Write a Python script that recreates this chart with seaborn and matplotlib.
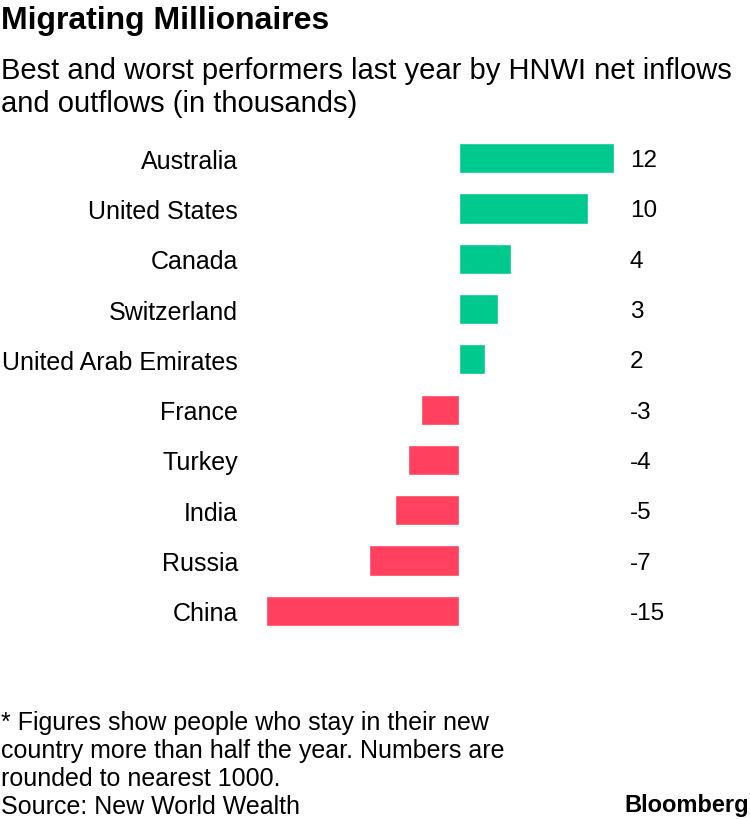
import matplotlib
matplotlib.use("Agg")
import matplotlib.pyplot as plt
import matplotlib.transforms as mtransforms
import seaborn as sns
import pandas as pd

countries = ["Australia", "United States", "Canada", "Switzerland", "United Arab Emirates",
             "France", "Turkey", "India", "Russia", "China"]
net_flows = [12, 10, 4, 3, 2, -3, -4, -5, -7, -15]
value_labels = ["12", "10", "4", "3", "2", "-3", "-4", "-5", "-7", "-15"]
footnote = ["* Figures show people who stay in their new",
            "country more than half the year. Numbers are",
            "rounded to nearest 1000.",
            "Source: New World Wealth"]

GREEN = "#00c98d"
RED = "#ff405f"

df = pd.DataFrame({"country": countries, "flow": net_flows})
df["sign"] = ["in" if v > 0 else "out" for v in net_flows]

sns.set_style("white")
plt.rcParams["font.family"] = ["Liberation Sans", "DejaVu Sans"]
plt.rcParams["text.color"] = "black"

fig = plt.figure(figsize=(7.5, 8.2), dpi=100)
ax = fig.add_axes([266 / 750, 1 - 637 / 820, 348 / 750, 503 / 820])

sns.barplot(data=df, x="flow", y="country", hue="sign", order=countries,
            palette={"in": GREEN, "out": RED}, width=0.6, dodge=False,
            legend=False, ax=ax, saturation=1)

ax.set_xlim(-15, 12)
ax.set_ylim(9.5, -0.5)
ax.set_xlabel("")
ax.set_ylabel("")
ax.set_xticks([])
for s in ax.spines.values():
    s.set_visible(False)
ax.tick_params(axis="y", length=0, pad=20, labelsize=18, labelcolor="black")

# value labels sit in a column right of the bars
trans = mtransforms.blended_transform_factory(fig.transFigure, ax.transData)
for i, lab in enumerate(value_labels):
    ax.text(630 / 750, i + 0.04, lab, transform=trans, ha="left", va="center",
            fontsize=17.5, color="black")

fig.text(1 / 750, 1 - 21 / 820, "Migrating Millionaires", fontsize=23,
         fontweight="bold", ha="left", va="center")
fig.text(1 / 750, 1 - 71 / 820,
         "Best and worst performers last year by HNWI net inflows",
         fontsize=21, ha="left", va="center")
fig.text(1 / 750, 1 - 104 / 820, "and outflows (in thousands)",
         fontsize=21, ha="left", va="center")
for k, line in enumerate(footnote):
    fig.text(1 / 750, 1 - (723 + 28 * k) / 820, line, fontsize=18,
             ha="left", va="center")
fig.text(749 / 750, 1 - 806 / 820, "Bloomberg", fontsize=17, fontweight="bold",
         ha="right", va="center")

fig.savefig("out.png", dpi=100)
